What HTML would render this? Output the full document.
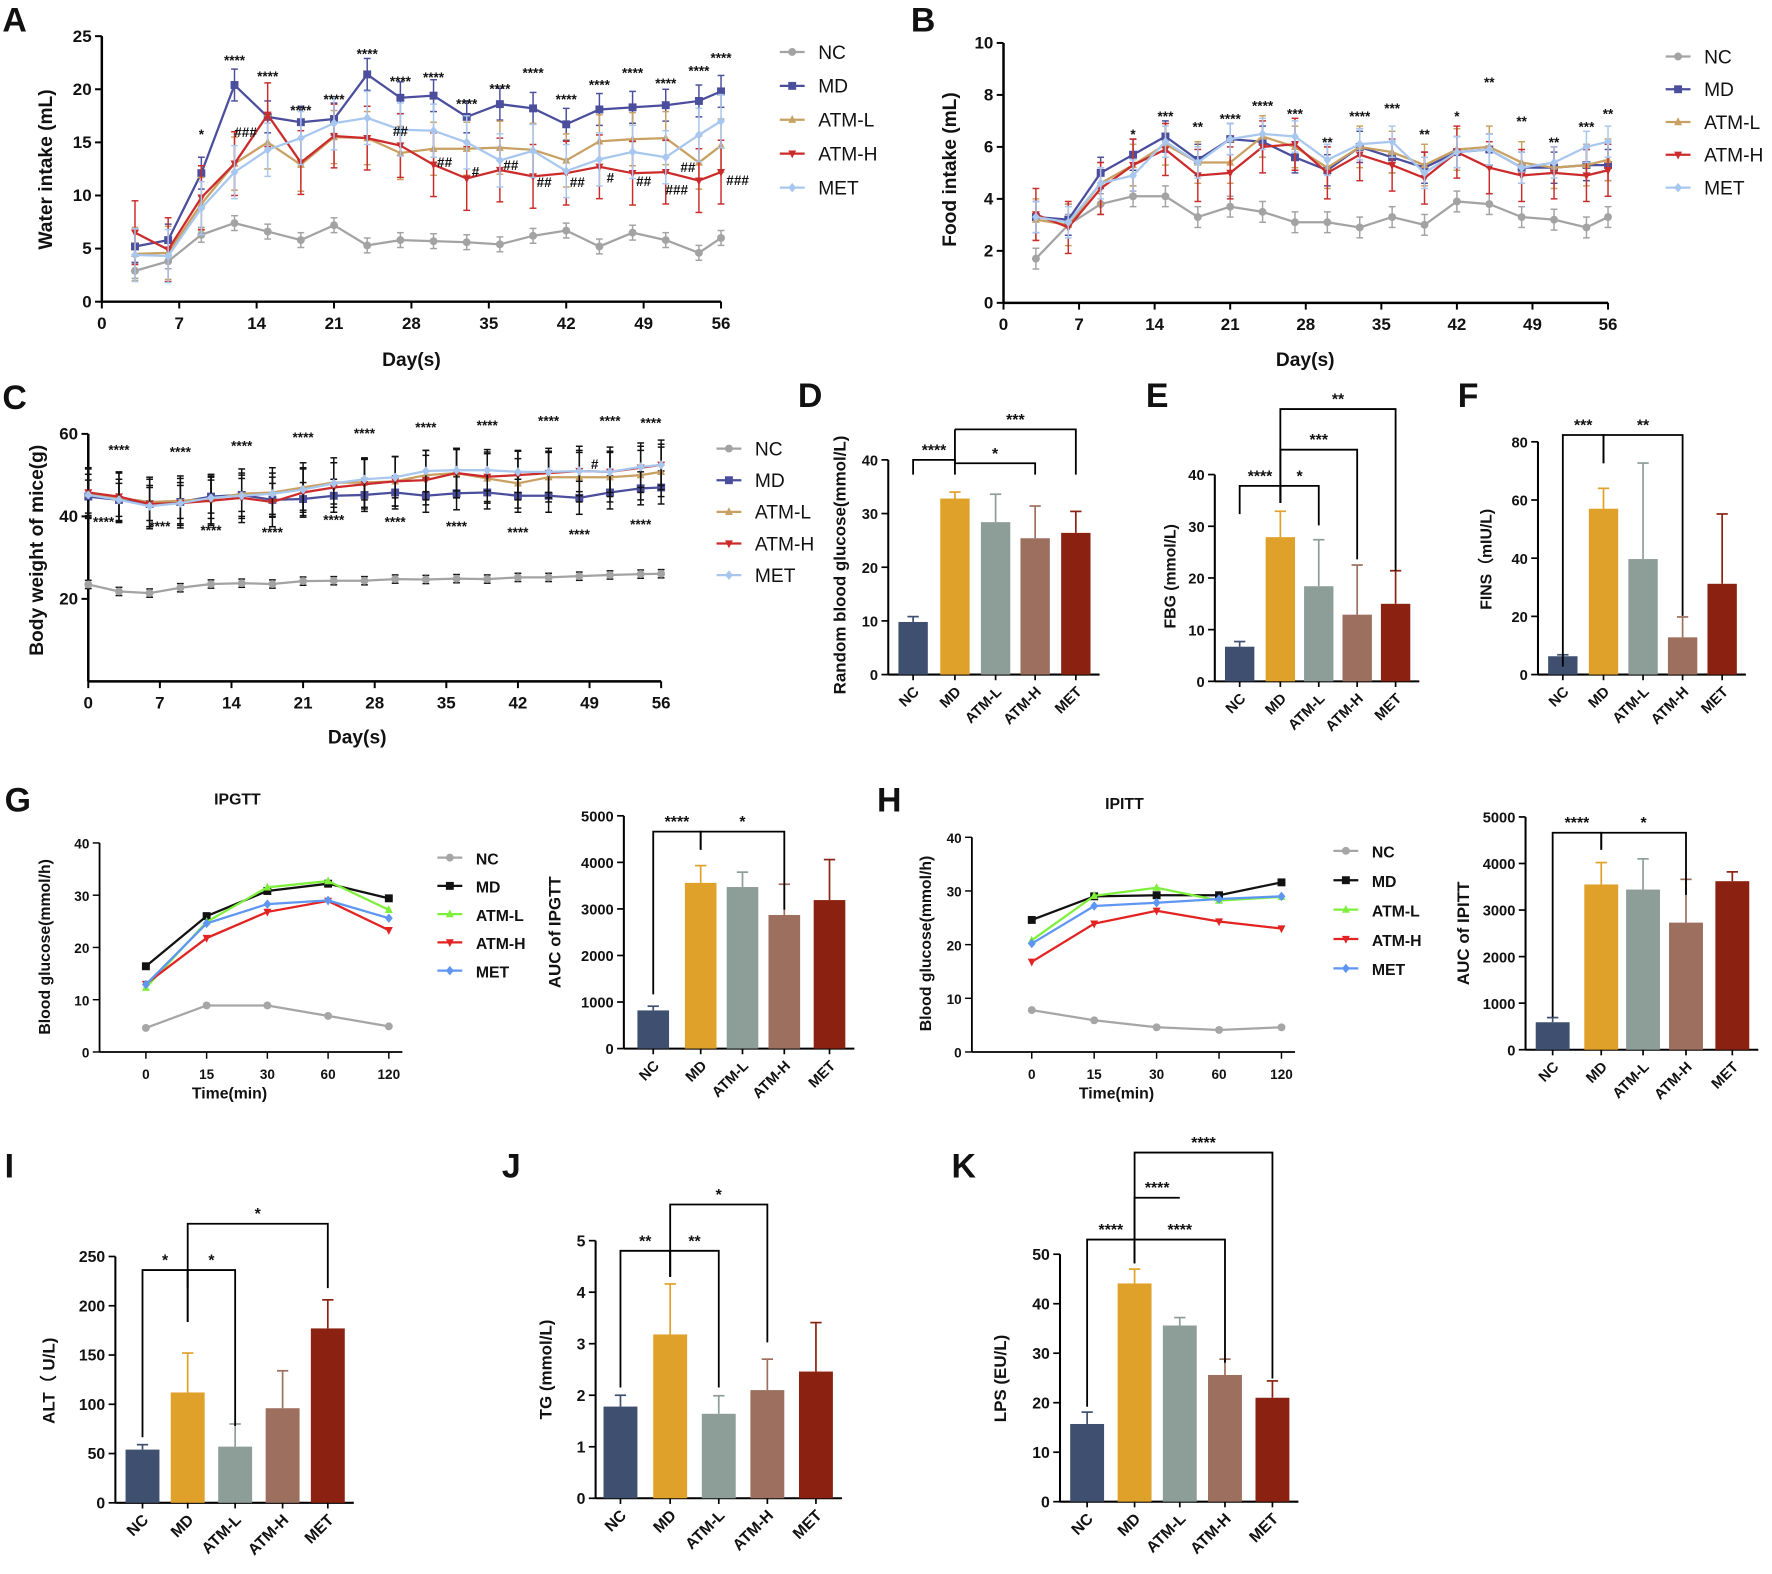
<!DOCTYPE html>
<html><head><meta charset="utf-8"><style>
html,body{margin:0;padding:0;background:#fff}
svg{display:block;font-family:"Liberation Sans",Arial,sans-serif}
</style></head><body>
<svg id="fig" width="1772" height="1574" viewBox="0 0 1568 1393" xmlns="http://www.w3.org/2000/svg"></svg>
<script>
// ---------- data ----------
const groups = ['NC','MD','ATM-L','ATM-H','MET'];
const daysA = [3,6,9,12,15,18,21,24,27,30,33,36,39,42,45,48,51,54,56];
const waterNC = [2.9,3.8,6.3,7.4,6.6,5.8,7.2,5.3,5.8,5.7,5.6,5.4,6.2,6.7,5.2,6.5,5.8,4.6,6.0];
const waterMD = [5.2,5.8,12.1,20.4,17.4,16.9,17.2,21.4,19.2,19.4,17.4,18.6,18.2,16.7,18.1,18.3,18.5,18.9,19.8];
const waterATML = [4.5,4.6,9.2,13.0,15.0,12.9,15.5,15.4,14.0,14.4,14.4,14.5,14.3,13.3,15.1,15.3,15.4,13.1,14.7];
const waterATMH = [6.5,4.9,9.8,13.0,17.6,13.1,15.6,15.4,14.7,12.9,11.6,12.4,11.8,12.1,12.7,12.1,12.2,11.4,12.2];
const waterMET = [4.4,4.3,8.8,12.2,14.3,15.4,16.8,17.3,16.2,16.1,15.0,13.3,14.2,12.3,13.4,14.1,13.6,15.7,17.0];
const foodNC = [1.7,3.0,3.8,4.1,4.1,3.3,3.7,3.5,3.1,3.1,2.9,3.3,3.0,3.9,3.8,3.3,3.2,2.9,3.3];
const foodMD = [3.3,3.2,5.0,5.7,6.4,5.5,6.3,6.2,5.6,5.1,6.0,5.6,5.2,5.8,5.9,5.2,5.2,5.3,5.3];
const foodATML = [3.2,3.0,4.6,5.3,6.1,5.4,5.4,6.4,6.0,5.2,6.0,5.8,5.3,5.9,6.0,5.4,5.2,5.3,5.5];
const foodATMH = [3.4,2.9,4.4,5.3,5.9,4.9,5.0,6.0,6.1,5.0,5.7,5.3,4.8,5.8,5.2,4.9,5.0,4.9,5.1];
const foodMET = [3.3,3.1,4.6,4.9,6.2,5.4,6.3,6.5,6.4,5.5,6.1,6.2,5.0,5.8,5.9,5.2,5.4,6.0,6.2];
const daysC = [0,3,6,9,12,15,18,21,24,27,30,33,36,39,42,45,48,51,54,56];
const bwNC = [23.5,21.8,21.4,22.7,23.6,23.8,23.6,24.3,24.4,24.4,24.8,24.7,24.9,24.8,25.2,25.2,25.5,25.8,26,26.1];
const bwMD = [44.8,44,43,43.5,44.8,45.2,44,44.2,45,45.2,45.8,45,45.6,45.8,45,45,44.5,45.8,46.8,47];
const bwATML = [45.5,44.5,43.5,43.8,44.2,45.5,45.8,47,48.2,48.2,48.5,50,50.5,49.2,48,49.5,49.5,49.5,50,50.8];
const bwATMH = [45.8,44.8,43,43.2,43.8,44.5,43.5,45.8,47,47.8,48.5,48.8,50.5,49.6,50,50.5,51,50.8,51.8,52.5];
const bwMET = [45.2,44,42.5,43.2,44.5,45,45.5,46.5,48,49,49.5,51,51.2,51.2,50.8,50.8,51,50.8,52,52.5];
const timeCats = ['0','15','30','60','120'];
const gttNC = [4.6,8.9,8.9,6.9,4.9];
const gttMD = [16.4,26,30.8,32.2,29.4];
const gttATML = [12.3,24.9,31.5,32.7,27.2];
const gttATMH = [13,21.8,26.8,28.9,23.3];
const gttMET = [12.9,24.6,28.3,29,25.6];
const ittNC = [7.8,5.9,4.6,4.1,4.6];
const ittMD = [24.6,29,29.2,29.2,31.6];
const ittATML = [20.8,29.1,30.6,28.2,28.9];
const ittATMH = [16.8,23.9,26.3,24.3,23];
const ittMET = [20.2,27.2,27.8,28.5,29];
const rbgVals = [9.8,32.8,28.4,25.4,26.4]; const rbgErr = [1,1.2,5.2,6,4];
const fbgVals = [6.7,27.9,18.4,12.9,15]; const fbgErr = [1,5,9,9.6,6.4];
const finsVals = [6.3,57,39.7,12.8,31.2]; const finsErr = [0.5,7,33,7,24];
const aucGVals = [820,3560,3470,2870,3190]; const aucGErr = [90,370,320,660,870];
const aucIVals = [590,3550,3440,2730,3620]; const aucIErr = [100,470,660,930,200];
const altVals = [54,112,57,96,177]; const altErr = [5,40,23,38,29];
const tgVals = [1.78,3.18,1.64,2.1,2.46]; const tgErr = [0.22,0.98,0.35,0.6,0.95];
const lpsVals = [15.7,44.1,35.6,25.6,21]; const lpsErr = [2.4,2.9,1.6,3.2,3.4];

// ---------- helpers ----------
const NS='http://www.w3.org/2000/svg';
const svg=document.getElementById('fig');
function mk(tag,a,name,parent){
  const e=document.createElementNS(NS,tag);
  for(const k in a) e.setAttribute(k,a[k]);
  
  
  (parent||svg).appendChild(e); return e;
}
function txt(x,y,s,size,name,extra,parent){
  const a=Object.assign({x:x,y:y,'font-size':size,'font-weight':'bold',fill:'#111'},extra||{});
  const t=mk('text',a,name,parent); t.textContent=s; return t;
}
const lineCol={NC:'#a3a3a3',MD:'#4a4e9c','ATM-L':'#c8a062','ATM-H':'#cc2b2b',MET:'#a8c7ef'};
const lineCol2={NC:'#a6a6a6',MD:'#111111','ATM-L':'#7ef03c','ATM-H':'#e32222',MET:'#5e96f2'};
const barCol=['#3f4f6f','#e0a12a','#8d9d98','#9c6f5e','#8b2211'];
const markers=['circle','square','up','down','diamond'];
function marker(type,x,y,r,col,name,g){
  if(type==='circle') return mk('circle',{cx:x,cy:y,r:r,fill:col},name,g);
  if(type==='square') return mk('rect',{x:x-r,y:y-r,width:2*r,height:2*r,fill:col},name,g);
  let p;
  if(type==='up') p=[[x,y-r*1.2],[x-r,y+r*0.8],[x+r,y+r*0.8]];
  else if(type==='down') p=[[x,y+r*1.2],[x-r,y-r*0.8],[x+r,y-r*0.8]];
  else p=[[x,y-r*1.2],[x+r,y],[x,y+r*1.2],[x-r,y]];
  return mk('polygon',{points:p.map(q=>q.join(',')).join(' '),fill:col},name,g);
}
function panelLetter(x,y,s){txt(x,y,s,30,'panel-label-'+s.toLowerCase(),{'font-weight':'bold'});}

function lineChart(c){
  const g=mk('g',{},c.name);
  const sx=v=>c.px0+(v-c.xmin)/(c.xmax-c.xmin)*(c.px1-c.px0);
  const sy=v=>c.py0-(v-c.ymin)/(c.ymax-c.ymin)*(c.py0-c.py1);
  const ax=c.axisX!==undefined?c.axisX:c.px0;
  mk('line',{x1:ax,y1:c.py0,x2:ax,y2:sy(c.ymax),stroke:'#000','stroke-width':c.aw},'y-axis',g);
  mk('line',{x1:ax,y1:c.py0,x2:c.px1+(c.xpad||0),y2:c.py0,stroke:'#000','stroke-width':c.aw},'x-axis',g);
  c.yticks.forEach(v=>{
    mk('line',{x1:ax-6,y1:sy(v),x2:ax,y2:sy(v),stroke:'#000','stroke-width':c.aw*0.8},'y-tick',g);
    txt(ax-9,sy(v)+5,String(v),c.fs,'y-tick-label',{'text-anchor':'end'},g);
  });
  c.xticks.forEach((v,i)=>{
    mk('line',{x1:sx(v),y1:c.py0,x2:sx(v),y2:c.py0+6,stroke:'#000','stroke-width':c.aw*0.8},'x-tick',g);
    txt(sx(v),c.py0+24,c.xlabels?c.xlabels[i]:String(v),c.fs,'x-tick-label',{'text-anchor':'middle'},g);
  });
  txt(c.xtitle[0],c.xtitle[1],c.xtitle[2],c.tfs,'x-axis-title',{'text-anchor':'middle'},g);
  txt(0,0,c.ytitle[2],c.tfs,'y-axis-title',{'text-anchor':'middle',transform:`translate(${c.ytitle[0]},${c.ytitle[1]}) rotate(-90)`},g);
  c.series.forEach((s,si)=>{
    const col=c.cols[groups[si]];
    const pts=s.map((v,i)=>[sx(c.xs[i]),sy(v)]);
    if(c.err){
      s.forEach((v,i)=>{
        const e=c.err[si];
        const x=sx(c.xs[i]);
        mk('line',{x1:x,y1:sy(v-e),x2:x,y2:sy(v+e),stroke:c.errCol||col,'stroke-width':1.3},'error-bar',g);
        mk('line',{x1:x-3,y1:sy(v+e),x2:x+3,y2:sy(v+e),stroke:c.errCol||col,'stroke-width':1.3},'error-cap',g);
        mk('line',{x1:x-3,y1:sy(v-e),x2:x+3,y2:sy(v-e),stroke:c.errCol||col,'stroke-width':1.3},'error-cap',g);
      });
    }
    mk('polyline',{points:pts.map(p=>p.join(',')).join(' '),fill:'none',stroke:col,'stroke-width':c.lw||2},'series-line-'+groups[si].toLowerCase(),g);
    pts.forEach(p=>marker(markers[si],p[0],p[1],c.mr||3.5,col,'point-'+groups[si].toLowerCase(),g));
  });
  groups.forEach((gname,i)=>{
    const lx=c.leg[0], ly=c.leg[1]+i*c.leg[2];
    const col=c.cols[gname];
    mk('line',{x1:lx,y1:ly,x2:lx+22,y2:ly,stroke:col,'stroke-width':2},'legend-line',g);
    marker(markers[i],lx+11,ly,3.5,col,'legend-marker',g);
    txt(lx+34,ly+6,gname,c.legfs||17,'legend-entry-'+gname.toLowerCase(),{'font-weight':c.legBold?'bold':'normal'},g);
  });
  if(c.stars) c.stars.forEach(s=>txt(sx(s[0]),sy(s[1]),s[2],12,'significance-mark',{'text-anchor':'middle'},g));
  return g;
}

function barChart(c){
  const g=mk('g',{},c.name);
  const sy=v=>c.py0-(v-0)/(c.ymax)*(c.py0-c.py1);
  const ax=c.axisX;
  mk('line',{x1:ax,y1:c.py0,x2:ax,y2:sy(c.ymax),stroke:'#000','stroke-width':1.8},'y-axis',g);
  mk('line',{x1:ax,y1:c.py0,x2:c.xs[4]+c.bw/2+8,y2:c.py0,stroke:'#000','stroke-width':1.8},'x-axis',g);
  c.yticks.forEach(v=>{
    mk('line',{x1:ax-6,y1:sy(v),x2:ax,y2:sy(v),stroke:'#000','stroke-width':1.5},'y-tick',g);
    txt(ax-9,sy(v)+5,String(v),c.fs,'y-tick-label',{'text-anchor':'end'},g);
  });
  c.vals.forEach((v,i)=>{
    const x=c.xs[i];
    const e=c.err[i];
    mk('line',{x1:x,y1:sy(v),x2:x,y2:sy(v+e),stroke:barCol[i],'stroke-width':1.5},'error-bar',g);
    mk('line',{x1:x-5,y1:sy(v+e),x2:x+5,y2:sy(v+e),stroke:barCol[i],'stroke-width':1.5},'error-cap',g);
    mk('rect',{x:x-c.bw/2,y:sy(v),width:c.bw,height:c.py0-sy(v),fill:barCol[i]},'bar-'+groups[i].toLowerCase(),g);
    mk('line',{x1:x,y1:c.py0,x2:x,y2:c.py0+5,stroke:'#000','stroke-width':1.5},'x-tick',g);
    txt(0,0,groups[i],c.fs,'x-tick-label',{'text-anchor':'end',transform:`translate(${x+6},${c.py0+16}) rotate(-45)`},g);
  });
  txt(0,0,c.ytitle[2],c.tfs||15,'y-axis-title',{'text-anchor':'middle',transform:`translate(${c.ytitle[0]},${c.ytitle[1]}) rotate(-90)`},g);
  (c.brackets||[]).forEach(b=>{
    const x1=c.xs[b[0]],x2=c.xs[b[1]],y=b[2];
    const d=`M${x1},${b[3]} L${x1},${y} L${x2},${y} L${x2},${b[4]}`;
    mk('path',{d:d,fill:'none',stroke:'#000','stroke-width':1.6},'significance-bracket',g);
    txt((x1+x2)/2,y-4,b[5],14,'significance-label',{'text-anchor':'middle'},g);
  });
  return g;
}

// ---------- panel A ----------
panelLetter(2,28,'A');
lineChart({name:'water-intake-chart',px0:90,px1:638,py0:267,py1:32,xmin:0,xmax:56,ymin:0,ymax:25,aw:2.2,fs:15,tfs:17,
  xticks:[0,7,14,21,28,35,42,49,56],yticks:[0,5,10,15,20,25],xs:daysA,
  series:[waterNC,waterMD,waterATML,waterATMH,waterMET],err:[0.7,1.5,2.5,3,2.5],cols:lineCol,
  xtitle:[364,324,'Day(s)'],ytitle:[46,150,'Water intake (mL)'],leg:[690,46,30],
  stars:[[9,15.3,'*'],[12,22.3,'****'],[15,20.8,'****'],[18,17.6,'****'],[21,18.6,'****'],[24,22.9,'****'],[27,20.3,'****'],[30,20.7,'****'],[33,18.2,'****'],[36,19.6,'****'],[39,21.1,'****'],[42,18.6,'****'],[45,20.0,'****'],[48,21.1,'****'],[51,20.1,'****'],[54,21.3,'****'],[56,22.5,'****'],
   [13,15.5,'###'],[27,15.6,'##'],[31,12.7,'##'],[33.8,11.8,'#'],[37,12.4,'##'],[40,10.8,'##'],[43,10.8,'##'],[46,11.2,'#'],[49,10.9,'##'],[53,12.2,'##'],[52,10.1,'###'],[57.5,11.0,'###']]});

// ---------- panel B ----------
panelLetter(806,28,'B');
lineChart({name:'food-intake-chart',px0:888,px1:1423,py0:268,py1:38,xmin:0,xmax:56,ymin:0,ymax:10,aw:2.2,fs:15,tfs:17,
  xticks:[0,7,14,21,28,35,42,49,56],yticks:[0,2,4,6,8,10],xs:daysA,
  series:[foodNC,foodMD,foodATML,foodATMH,foodMET],err:[0.4,0.6,0.8,1.0,0.6],cols:lineCol,
  xtitle:[1155,324,'Day(s)'],ytitle:[846,150,'Food intake (mL)'],leg:[1474,50,29],
  stars:[[12,6.3,'*'],[15,7.0,'***'],[18,6.6,'**'],[21,6.9,'****'],[24,7.4,'****'],[27,7.1,'***'],[30,6.0,'**'],[33,7.0,'****'],[36,7.3,'***'],[39,6.3,'**'],[42,7.0,'*'],[45,8.3,'**'],[48,6.8,'**'],[51,6.0,'**'],[54,6.6,'***'],[56,7.1,'**']]});

// ---------- panel C ----------
panelLetter(2,362,'C');
lineChart({name:'body-weight-chart',px0:78,px1:585,py0:603,py1:384,xmin:0,xmax:56,ymin:0,ymax:60,aw:2.2,fs:15,tfs:17,
  xticks:[0,7,14,21,28,35,42,49,56],yticks:[20,40,60],xs:daysC,
  series:[bwNC,bwMD,bwATML,bwATMH,bwMET],err:[1,4,6,6,5],errCol:'#111',cols:lineCol,
  xtitle:[316,658,'Day(s)'],ytitle:[38,487,'Body weight of mice(g)'],leg:[634,397,28],
  stars:[[3,55,'****'],[9,54.5,'****'],[15,56,'****'],[21,58,'****'],[27,59,'****'],[33,60.5,'****'],[39,61,'****'],[45,62,'****'],[51,62,'****'],[55,61.5,'****'],
   [1.5,37.5,'****'],[7,36.5,'****'],[12,35.5,'****'],[18,35,'****'],[24,38,'****'],[30,37.5,'****'],[36,36.5,'****'],[42,35,'****'],[48,34.5,'****'],[54,37,'****'],[49.5,51.5,'#']]});

// ---------- panel D/E/F ----------
panelLetter(706,360,'D');
barChart({name:'random-blood-glucose-chart',axisX:786,xs:[808,845,881,916,952],bw:26,py0:597,py1:407,ymax:40,yticks:[0,10,20,30,40],fs:13,
  vals:rbgVals,err:rbgErr,ytitle:[748,500,'Random blood glucose(mmol/L)'],
  brackets:[[0,1,407,420,420,'****'],[1,3,410,380,420,'*'],[1,4,380,380,420,'***']]});
panelLetter(1014,360,'E');
barChart({name:'fbg-chart',axisX:1075,xs:[1097,1133,1167,1201,1235],bw:26,py0:603,py1:420,ymax:40,yticks:[0,10,20,30,40],fs:13,
  vals:fbgVals,err:fbgErr,ytitle:[1040,510,'FBG (mmol/L)'],tfs:14,
  brackets:[[0,1,430,455,445,'****'],[1,2,430,445,465,'*'],[1,3,398,445,495,'***'],[1,4,362,445,505,'**']]});
panelLetter(1290,360,'F');
barChart({name:'fins-chart',axisX:1361,xs:[1383,1419,1454,1489,1524],bw:26,py0:597,py1:391,ymax:80,yticks:[0,20,40,60,80],fs:13,
  vals:finsVals,err:finsErr,ytitle:[1320,495,'FINS（mIU/L)'],tfs:14,
  brackets:[[0,1,385,590,410,'***'],[1,3,385,410,545,'**']]});

// ---------- panel G ----------
panelLetter(4,718,'G');
txt(210,712,'IPGTT',14,'ipgtt-title',{'text-anchor':'middle'});
lineChart({name:'ipgtt-chart',axisX:88,px0:129,px1:344,py0:931,py1:746,xmin:0,xmax:4,ymin:0,ymax:40,aw:1.6,fs:12,tfs:14,xpad:12,lw:2,mr:3.5,
  xticks:[0,1,2,3,4],xlabels:timeCats,yticks:[0,10,20,30,40],xs:[0,1,2,3,4],
  series:[gttNC,gttMD,gttATML,gttATMH,gttMET],cols:lineCol2,
  xtitle:[203,972,'Time(min)'],ytitle:[44,838,'Blood glucose(mmol/h)'],leg:[387,759,25],legfs:14,legBold:true});
barChart({name:'auc-ipgtt-chart',axisX:552,xs:[578,620,657,694,734],bw:28,py0:928,py1:722,ymax:5000,yticks:[0,1000,2000,3000,4000,5000],fs:13,
  vals:aucGVals,err:aucGErr,ytitle:[496,825,'AUC of IPGTT'],
  brackets:[[0,1,736,880,752,'****'],[1,3,736,752,805,'*']]});

// ---------- panel H ----------
panelLetter(776,718,'H');
txt(995,716,'IPITT',14,'ipitt-title',{'text-anchor':'middle'});
lineChart({name:'ipitt-chart',axisX:860,px0:913,px1:1134,py0:931,py1:741,xmin:0,xmax:4,ymin:0,ymax:40,aw:1.6,fs:12,tfs:14,xpad:12,lw:2,mr:3.5,
  xticks:[0,1,2,3,4],xlabels:timeCats,yticks:[0,10,20,30,40],xs:[0,1,2,3,4],
  series:[ittNC,ittMD,ittATML,ittATMH,ittMET],cols:lineCol2,
  xtitle:[988,972,'Time(min)'],ytitle:[824,835,'Blood glucose(mmol/h)'],leg:[1180,753,26],legfs:14,legBold:true});
barChart({name:'auc-ipitt-chart',axisX:1350,xs:[1374,1417,1454,1492,1533],bw:30,py0:929,py1:723,ymax:5000,yticks:[0,1000,2000,3000,4000,5000],fs:13,
  vals:aucIVals,err:aucIErr,ytitle:[1300,826,'AUC of IPITT'],
  brackets:[[0,1,737,900,752,'****'],[1,3,737,752,792,'*']]});

// ---------- panel I/J/K ----------
panelLetter(4,1042,'I');
barChart({name:'alt-chart',axisX:102,xs:[126,166,208,250,290],bw:30,py0:1330,py1:1112,ymax:250,yticks:[0,50,100,150,200,250],fs:14,
  vals:altVals,err:altErr,ytitle:[48,1222,'ALT（ U/L)'],
  brackets:[[0,1,1124,1272,1170,'*'],[1,2,1124,1170,1262,'*'],[1,4,1083,1140,1140,'*']]});
panelLetter(444,1042,'J');
barChart({name:'tg-chart',axisX:527,xs:[549,593,636,679,722],bw:30,py0:1326,py1:1098,ymax:5,yticks:[0,1,2,3,4,5],fs:14,
  vals:tgVals,err:tgErr,ytitle:[488,1212,'TG (mmol/L)'],
  brackets:[[0,1,1107,1228,1130,'**'],[1,2,1107,1130,1228,'**'],[1,3,1066,1130,1188,'*']]});
panelLetter(842,1042,'K');
barChart({name:'lps-chart',axisX:938,xs:[962,1004,1044,1084,1126],bw:30,py0:1329,py1:1110,ymax:50,yticks:[0,10,20,30,40,50],fs:14,
  vals:lpsVals,err:lpsErr,ytitle:[890,1220,'LPS (EU/L)'],
  brackets:[[0,1,1097,1245,1118,'****'],[1,2,1060,1118,1060,'****'],[1,3,1097,1118,1206,'****'],[1,4,1020,1118,1220,'****']]});
</script>
</body></html>
